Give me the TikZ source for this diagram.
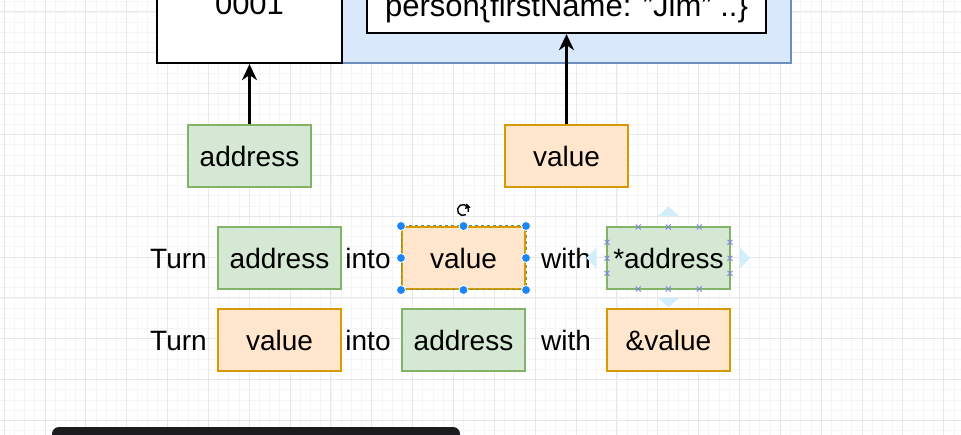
\documentclass[tikz,border=0pt]{standalone}
\usepackage{fontspec}
\setmainfont{Liberation Sans}
\usetikzlibrary{arrows.meta}
\definecolor{gfill}{HTML}{D5E8D4}
\definecolor{gline}{HTML}{82B366}
\definecolor{ofill}{HTML}{FFE6CC}
\definecolor{oline}{HTML}{D79B00}
\definecolor{bfill}{HTML}{DAE8FC}
\definecolor{bline}{HTML}{6C8EBF}
\definecolor{gridmaj}{HTML}{E8E8E8}
\definecolor{gridmin}{HTML}{F5F5F5}
\definecolor{selblue}{HTML}{1A86F5}
\definecolor{hintblue}{HTML}{D3EEFB}
\definecolor{xmark}{HTML}{7B86E0}
\definecolor{barcol}{HTML}{1C1C1E}
\begin{document}
\begin{tikzpicture}[x=1pt,y=-1pt,
  txt/.style={font=\fontsize{28}{32}\selectfont, inner sep=0pt, text height=20.4pt, text depth=0pt},
  bigtxt/.style={font=\fontsize{31}{36}\selectfont, inner sep=0pt, text height=22.2pt, text depth=0pt},
  gbox/.style={draw=gline, fill=gfill, line width=2pt, minimum width=123pt, minimum height=62pt, txt},
  obox/.style={draw=oline, fill=ofill, line width=2pt, minimum width=123pt, minimum height=62pt, txt},
  memarrow/.style={line width=3pt, -{Stealth[length=16pt,width=15pt,inset=5pt]}},
  minorgrid/.style={draw=gridmin, line width=0.8pt},
  majorgrid/.style={draw=gridmaj, line width=1pt},
  handle/.style={circle, fill=selblue, draw=white, line width=0.8pt, minimum size=9pt, inner sep=0pt},
  hint/.style={fill=hintblue, draw=none},
  xm/.style={draw=xmark, line width=0.9pt}
]
\useasboundingbox (0,0) rectangle (961,435);
\clip (0,0) rectangle (961,435);
\fill[white] (0,0) rectangle (961,435);
% grid
\foreach \i in {0,...,94} \draw[minorgrid] ({4.15+\i*10.2125},0) -- ({4.15+\i*10.2125},435);
\foreach \j in {0,...,43} \draw[minorgrid] (0,{1.79+\j*10.2125}) -- (961,{1.79+\j*10.2125});
\foreach \i in {0,...,23} \draw[majorgrid] ({4.15+\i*40.85},0) -- ({4.15+\i*40.85},435);
\foreach \j in {0,...,10} \draw[majorgrid] (0,{12+\j*40.85}) -- (961,{12+\j*40.85});

% top memory
\node[draw=bline, fill=bfill, line width=2pt, minimum width=449pt, minimum height=120pt, inner sep=0pt] (heap) at (566.5,3) {};
\node[draw=black, fill=white, line width=2.2pt, minimum width=185pt, minimum height=120pt, bigtxt] (mem) at (249.5,3) {};
\node[bigtxt] (memtxt) at (249.5,3.4) {0001};
\node[draw=black, fill=white, line width=2.2pt, minimum width=399pt, minimum height=56pt, inner sep=0pt] (obj) at (566.5,5) {};
\node[bigtxt] (objtxt) at (566.5,5.4) {person\{firstName: "Jim" ..\}};

% pointer / value boxes
\node[gbox] (addrTop) at (249.5,156) {address};
\node[obox] (valTop) at (566.5,156) {value};
\draw[memarrow] (addrTop.north) -- (mem.south);
\draw[memarrow] (valTop.north) -- (obj.south);

% row 1
\node[txt] (turnA) at (178.5,258) {Turn};
\node[gbox] (addrA) at (279.5,258) {address};
\node[txt] (intoA) at (368,258) {into};
\node[obox] (valA) at (463.5,258) {value};
\node[txt] (withA) at (566,258) {with};
% hint arrows around *address
\fill[hint] (668.5,206.5) -- (679,216) -- (658,216) -- cycle;
\fill[hint] (668.5,307.5) -- (679,298) -- (658,298) -- cycle;
\fill[hint] (586.5,258) -- (596.5,247.5) -- (596.5,268.5) -- cycle;
\fill[hint] (750,258) -- (740,247.5) -- (740,268.5) -- cycle;
\node[gbox] (derefA) at (668.5,258) {*address};

% row 2
\node[txt] (turnB) at (178.5,340) {Turn};
\node[obox] (valB) at (279.5,340) {value};
\node[txt] (intoB) at (368,340) {into};
\node[gbox] (addrB) at (463.5,340) {address};
\node[txt] (withB) at (566,340) {with};
\node[obox] (refB) at (668.5,340) {\&value};

% selection decorations on row-1 value box
\draw[gline!80!black, line width=1pt, dash pattern=on 3pt off 3pt] (valA.south west) rectangle (valA.north east);
\foreach \a in {north west,north,north east,west,east,south west,south,south east}
  \node[handle] at (valA.\a) {};
\draw[line width=1.4pt] (463,210) ++(60:5.5) arc[start angle=60, end angle=380, radius=5.5];
\fill (466.5,203.5) -- (470.5,207.5) -- (465,209) -- cycle;
% hover markers on *address box
\foreach \p in {(638.3,227),(668.3,227),(699.3,227),(638.3,289),(668.3,289),(699.3,289),(607,242.3),(607,258.3),(607,273.3),(730,242.3),(730,258.3),(730,273.3)}
  \draw[xm] \p ++(-2.5,-2.5) -- ++(5,5) \p ++(-2.5,2.5) -- ++(5,-5);

% bottom dark bar
\fill[barcol, rounded corners=7pt] (52,427) rectangle (460,450);
\end{tikzpicture}
\end{document}
